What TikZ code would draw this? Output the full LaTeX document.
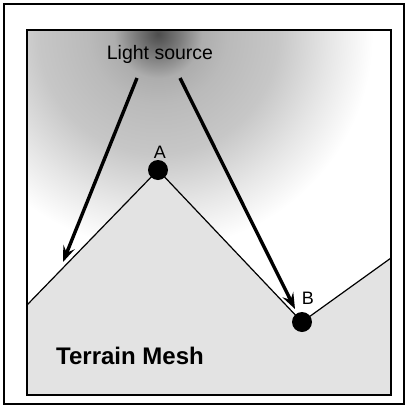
\documentclass[tikz,border=0pt]{standalone}
\usepackage{fontspec}
\setmainfont{Liberation Sans}
\usetikzlibrary{arrows.meta,positioning}
\pgfdeclareradialshading{glow}{\pgfpoint{0bp}{0bp}}{color(0bp)=(black!70); color(1.1bp)=(black!52); color(2.2bp)=(black!32); color(3.5bp)=(black!27); color(6bp)=(black!22); color(8.5bp)=(black!10); color(10.75bp)=(white); color(50bp)=(white)}

\begin{document}
\begin{tikzpicture}
[	x=1pt, y=-1pt,
	vertex/.style = {circle, fill=black, inner sep=0, minimum size=20pt},
	ray/.style = {-{Stealth[length=16pt,width=12pt,inset=6pt]}, line width=3.4pt},
	lbl/.style = {font=\fontsize{18}{18}\selectfont}
]
\useasboundingbox (0,0) rectangle (408,408);
\draw[line width=2pt] (4,4) rectangle (404,404);

\coordinate (meshL) at (27,305);
\coordinate (meshR) at (391,258);
\coordinate (peak) at (158,170);
\coordinate (pit) at (302,322);

\begin{scope}
\clip (27,30) rectangle (391,395);
\fill[shading=glow] (158,34) circle (500pt);
\fill[black!11] (meshL) -- (peak) -- (pit) -- (meshR) -- (391,395) -- (27,395) -- cycle;
\end{scope}
\draw[line width=1.2pt] (meshL) -- (peak) -- (pit) -- (meshR);
\draw[line width=1.8pt] (27,30) rectangle (391,395);

\node[font=\fontsize{19.5}{21}\selectfont] (light) at (160,54) {Light source};
\node[vertex] (A) at (peak) {};
\node[vertex] (B) at (pit) {};
\node[lbl] (labA) at (160,152) {A};
\node[lbl] (labB) at (308,298) {B};
\node[font=\bfseries\fontsize{24}{24}\selectfont] (mesh) at (130,356) {Terrain Mesh};

\coordinate (srcA) at (137,78);
\coordinate (srcB) at (180,78);
\coordinate (hitA) at (63,262);
\coordinate (hitB) at (295,309);
\draw[ray] (srcA) -- (hitA);
\draw[ray] (srcB) -- (hitB);

\end{tikzpicture}
\end{document}
